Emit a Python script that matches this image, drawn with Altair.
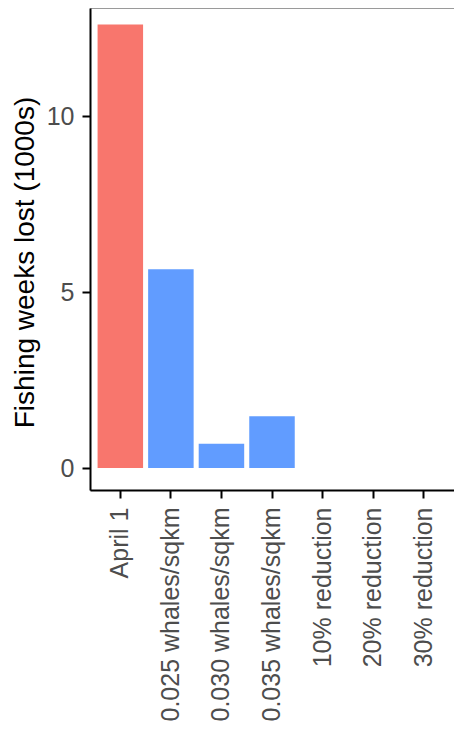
import altair as alt
import pandas as pd

categories = ["April 1", "0.025 whales/sqkm", "0.030 whales/sqkm", "0.035 whales/sqkm",
              "10% reduction", "20% reduction", "30% reduction"]
values = [12.6, 5.65, 0.69, 1.47, 0.0, 0.0, 0.0]
groups = ["date", "density", "density", "density", "reduction", "reduction", "reduction"]
group_names = ["date", "density", "reduction"]
group_colors = ["#F8766D", "#619CFF", "#00BA38"]
y_ticks = [0, 5, 10]

df = pd.DataFrame({"category": categories, "value": values, "group": groups})

chart = alt.Chart(df).mark_bar().encode(
    x=alt.X("category:N", sort=categories,
            scale=alt.Scale(paddingInner=0.1, paddingOuter=0.15),
            axis=alt.Axis(title=None, labelAngle=-90, labelAlign="right",
                          labelBaseline="middle", labelPadding=9, labelLimit=0)),
    y=alt.Y("value:Q",
            scale=alt.Scale(domain=[-0.625, 13.07], nice=False, zero=False),
            axis=alt.Axis(title="Fishing weeks lost (1000s)", values=y_ticks,
                          grid=False, titlePadding=7, labelPadding=8, titleY=254)),
    color=alt.Color("group:N", scale=alt.Scale(domain=group_names, range=group_colors),
                    legend=None),
).properties(
    width=364, height=482,
    padding={"left": 3, "top": 0, "right": 0, "bottom": 0},
).configure_view(
    stroke="#9a9a9a", strokeWidth=1
).configure_axis(
    domainColor="black", domainWidth=2, tickColor="black", tickWidth=2, tickSize=8,
    labelColor="#4D4D4D", labelFont="Liberation Sans", labelFontSize=25,
    titleFont="Liberation Sans", titleFontSize=28, titleFontWeight="normal", titleColor="black",
)

chart.save("out.html", embed_options={"renderer": "svg", "actions": False})
